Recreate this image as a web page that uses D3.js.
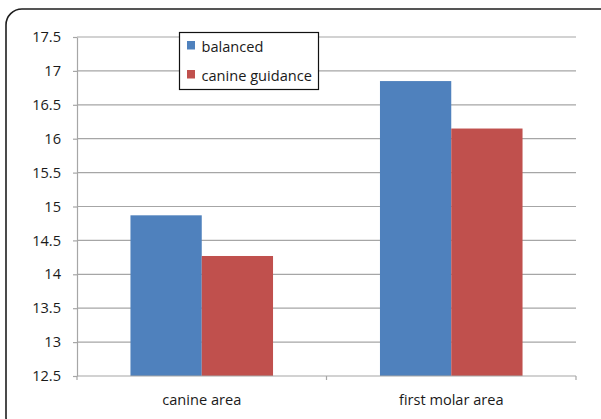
<!DOCTYPE html>
<html>
<head>
<meta charset="utf-8">
<script src="https://cdn.jsdelivr.net/npm/d3@7"></script>
<style>
  html, body { margin: 0; padding: 0; background: #fff; }
  svg { display: block; font-family: "Open Sans", sans-serif; }
</style>
</head>
<body>
<svg id="chart" width="601" height="419"></svg>
<script>
// Chart data
const categories = ["canine area", "first molar area"];
const seriesNames = ["balanced", "canine guidance"];
const balanced = [14.87, 16.85];
const canineGuidance = [14.27, 16.15];
const yTicks = [12.5, 13, 13.5, 14, 14.5, 15, 15.5, 16, 16.5, 17, 17.5];
const seriesColors = ["#4F81BD", "#C0504D"];

const seriesValues = [balanced, canineGuidance];
const fontSize = 14.6;

const svg = d3.select("#chart");
const plot = { left: 77, right: 576, top: 37, bottom: 376 };

// Outer rounded frame
svg.append("rect")
  .attr("x", 6).attr("y", 9)
  .attr("width", 612).attr("height", 424)
  .attr("rx", 16).attr("ry", 16)
  .attr("fill", "#fff")
  .attr("stroke", "#1e1e1e")
  .attr("stroke-width", 1.6);

const y = d3.scaleLinear().domain([12.5, 17.5]).range([plot.bottom, plot.top]);
const x = d3.scaleBand().domain(categories).range([plot.left, plot.right]).padding(0);
const xs = d3.scaleBand().domain(seriesNames).range([0, x.bandwidth()])
  .paddingInner(0).paddingOuter(0.75);

// Horizontal gridlines
svg.append("g")
  .selectAll("line")
  .data(yTicks.filter(t => t > 12.5))
  .join("line")
  .attr("x1", plot.left).attr("x2", plot.right)
  .attr("y1", d => y(d)).attr("y2", d => y(d))
  .attr("stroke", "#a6a6a6").attr("stroke-width", 1.2);

// Bars
const groups = svg.append("g")
  .selectAll("g")
  .data(categories)
  .join("g")
  .attr("transform", d => `translate(${x(d)},0)`);

groups.selectAll("rect")
  .data((c, i) => seriesNames.map((s, j) => ({ s, j, v: seriesValues[j][i] })))
  .join("rect")
  .attr("x", d => xs(d.s))
  .attr("width", xs.bandwidth())
  .attr("y", d => y(d.v))
  .attr("height", d => y(12.5) - y(d.v))
  .attr("fill", d => seriesColors[d.j]);

// Y axis
const yAxis = d3.axisLeft(y).tickValues(yTicks).tickSize(4).tickSizeOuter(0)
  .tickFormat(d3.format(""));
const gy = svg.append("g")
  .attr("transform", `translate(${plot.left},0)`)
  .call(yAxis);
gy.select(".domain").attr("stroke", "#a6a6a6").attr("stroke-width", 1.2);
gy.selectAll(".tick line").attr("stroke", "#a6a6a6").attr("stroke-width", 1.2);
gy.selectAll(".tick text")
  .attr("x", -16)
  .attr("font-size", fontSize)
  .attr("font-family", "Open Sans, sans-serif")
  .attr("fill", "#1a1a1a");

// X axis: baseline with tick marks at category boundaries
const gx = svg.append("g");
gx.append("line")
  .attr("x1", plot.left).attr("x2", plot.right)
  .attr("y1", plot.bottom).attr("y2", plot.bottom)
  .attr("stroke", "#a6a6a6").attr("stroke-width", 1.2);
const boundaries = categories.map(c => x(c)).concat([x(categories[categories.length - 1]) + x.bandwidth()]);
gx.selectAll("line.tk")
  .data(boundaries)
  .join("line")
  .attr("class", "tk")
  .attr("x1", d => d).attr("x2", d => d)
  .attr("y1", plot.bottom).attr("y2", plot.bottom + 4)
  .attr("stroke", "#a6a6a6").attr("stroke-width", 1.2);
gx.selectAll("text")
  .data(categories)
  .join("text")
  .attr("x", d => x(d) + x.bandwidth() / 2)
  .attr("y", 405)
  .attr("text-anchor", "middle")
  .attr("font-size", fontSize)
  .attr("fill", "#1a1a1a")
  .text(d => d);

// Legend
const legend = svg.append("g");
legend.append("rect")
  .attr("x", 179.5).attr("y", 32.5)
  .attr("width", 139).attr("height", 57)
  .attr("fill", "#fff")
  .attr("stroke", "#111").attr("stroke-width", 1.2);
const items = legend.selectAll("g")
  .data(seriesNames)
  .join("g")
  .attr("transform", (d, i) => `translate(187,${41 + i * 29})`);
items.append("rect")
  .attr("width", 8).attr("height", 8.5)
  .attr("fill", (d, i) => seriesColors[i]);
items.append("text")
  .attr("x", 14.5).attr("y", 10.8)
  .attr("font-size", fontSize)
  .attr("fill", "#1a1a1a")
  .text(d => d);
</script>
</body>
</html>
